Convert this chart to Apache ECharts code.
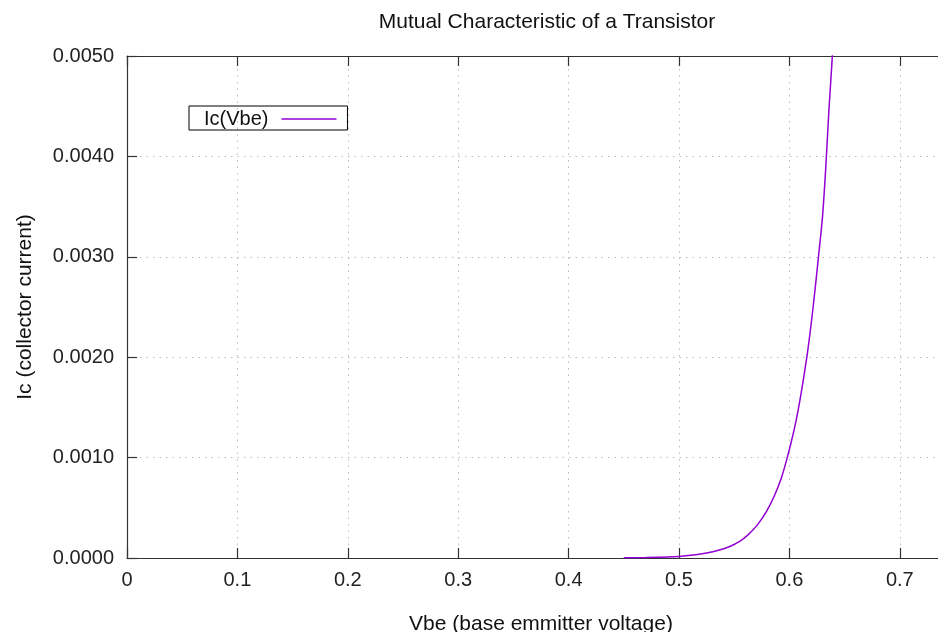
<!DOCTYPE html>
<html>
<head>
<meta charset="utf-8">
<script src="https://cdn.jsdelivr.net/npm/echarts@6/dist/echarts.min.js"></script>
<style>
  html, body { margin: 0; padding: 0; background: #fff; }
  #ic_chart { width: 938px; height: 632px; }
</style>
</head>
<body>
<div id="ic_chart"></div>
<script>
// values
let vbe = [0.45, 0.47, 0.49, 0.50, 0.515, 0.525, 0.535, 0.546, 0.555, 0.5625, 0.571, 0.579,
           0.586, 0.5928, 0.5978, 0.602, 0.6063, 0.6109, 0.6163, 0.6215, 0.6268, 0.630,
           0.633, 0.636, 0.6389, 0.642];
let ic = [0.000002, 0.000005, 0.00001, 0.000016, 0.000032, 0.00005, 0.000075, 0.000115, 0.000166,
          0.00023, 0.00033, 0.00046, 0.00061, 0.0008, 0.00099, 0.00117, 0.00138, 0.00166,
          0.00204, 0.0025, 0.00305, 0.0034, 0.0039, 0.0045, 0.005, 0.0057];
let x_ticks = [0, 0.1, 0.2, 0.3, 0.4, 0.5, 0.6, 0.7];
let y_ticks = [0, 0.001, 0.002, 0.003, 0.004, 0.005];

let font = 'Liberation Sans, Arial, sans-serif';
let border = { show: true, lineStyle: { color: '#333', width: 1.2 } };
let ticks = { show: true, inside: true, length: 10, lineStyle: { color: '#333', width: 1.2 } };
let dots = { show: true, lineStyle: { color: '#bbb', width: 1, type: [1.5, 5] } };

let ic_option = {
    animation: false,
    backgroundColor: '#fff',
    title: {
        text: 'Mutual Characteristic of a Transistor',
        left: 542,
        top: 7,
        textAlign: 'center',
        textStyle: {
            color: '#111',
            fontSize: 21,
            fontWeight: 'normal',
            fontFamily: font
        }
    },
    legend: {
        left: 189,
        top: 106,
        align: 'right',
        padding: [3, 11, 1, 15],
        borderColor: '#000',
        borderWidth: 1,
        borderRadius: 0,
        itemWidth: 55,
        itemHeight: 1.6,
        textStyle: {
            color: '#111',
            fontSize: 20,
            fontFamily: font,
            padding: [0, 8, 0, 0]
        },
        data: [{ name: 'Ic(Vbe)', icon: 'rect' }]
    },
    grid: {
        left: 127,
        top: 56,
        bottom: 74,
        width: 828,
        containLabel: false,
        outerBoundsMode: 'none'
    },
    xAxis: [
        {
            type: 'value',
            min: 0,
            max: 0.75,
            interval: 0.1,
            name: 'Vbe (base emmitter voltage)',
            nameLocation: 'middle',
            nameGap: 56,
            nameTextStyle: { color: '#111', fontSize: 21, fontFamily: font },
            axisLine: border,
            axisTick: ticks,
            axisLabel: {
                color: '#222',
                fontSize: 20,
                fontFamily: font,
                margin: 12,
                showMaxLabel: false,
                formatter: function (v) {
                    return x_ticks.indexOf(+v.toFixed(2)) >= 0 ? String(+v.toFixed(2)) : '';
                }
            },
            splitLine: dots
        },
        {
            type: 'value',
            position: 'top',
            min: 0,
            max: 0.75,
            interval: 0.1,
            axisLine: border,
            axisTick: ticks,
            axisLabel: { show: false },
            splitLine: { show: false }
        }
    ],
    yAxis: {
        type: 'value',
        min: 0,
        max: 0.005,
        interval: 0.001,
        name: 'Ic (collector current)',
        nameLocation: 'middle',
        nameGap: 91,
        nameTextStyle: { color: '#111', fontSize: 21, fontFamily: font },
        axisLine: border,
        axisTick: ticks,
        axisLabel: {
            color: '#222',
            fontSize: 20,
            fontFamily: font,
            margin: 13,
            formatter: function (v) {
                let i = y_ticks.findIndex(t => Math.abs(t - v) < 1e-9);
                return i >= 0 ? y_ticks[i].toFixed(4) : '';
            }
        },
        splitLine: dots
    },
    series: [
        {
            name: 'Ic(Vbe)',
            type: 'line',
            symbol: 'none',
            smooth: 0.3,
            clip: true,
            color: '#9400d3',
            lineStyle: { color: '#9400d3', width: 1.5 },
            data: vbe.map((v, i) => [v, ic[i]])
        }
    ]
};

var ic_chart = echarts.init(document.getElementById('ic_chart'));
ic_chart.setOption(ic_option);
</script>
</body>
</html>
